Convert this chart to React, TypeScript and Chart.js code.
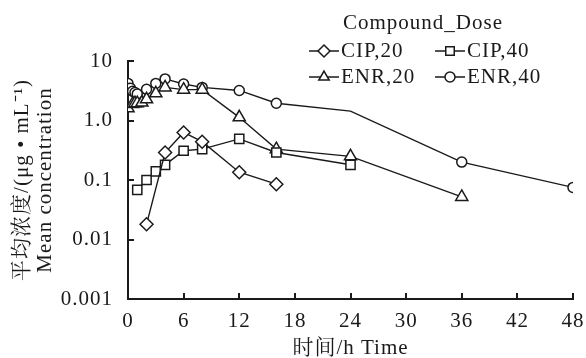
import React, { useEffect, useRef } from "react";
import Chart from "chart.js/auto";

// ---- data ----
const cip20Time = [2, 4, 6, 8, 12, 16];
const cip20Conc = [0.018, 0.29, 0.63, 0.44, 0.135, 0.085];

const cip40Time = [1, 2, 3, 4, 6, 8, 12, 16, 24];
const cip40Conc = [0.068, 0.1, 0.14, 0.18, 0.31, 0.33, 0.49, 0.29, 0.18];

const enr20Time = [0, 0.5, 0.75, 1, 1.5, 2, 3, 4, 6, 8, 12, 16, 24, 36];
const enr20Conc = [1.6, 1.9, 1.95, 1.95, 2.0, 2.27, 2.87, 3.6, 3.3, 3.3, 1.13, 0.33, 0.25, 0.052];

const enr40Time = [0, 0.25, 0.5, 0.75, 1, 2, 3, 4, 6, 8, 12, 16, 24, 36, 48];
const enr40Conc = [4.2, 3.5, 3.1, 2.95, 2.8, 3.34, 4.2, 5.0, 4.1, 3.6, 3.2, 1.95, 1.44, 0.2, 0.075];
const enr40Hidden = [24]; // time points drawn without a marker

const seriesLabels = ["CIP,20", "CIP,40", "ENR,20", "ENR,40"];
const legendTitle = "Compound_Dose";

const xTickStep = 6;
const xMin = 0;
const xMax = 48;
const yTickValues = [0.001, 0.01, 0.1, 1, 10];
const yTickLabels = ["0.001", "0.01", "0.1", "1.0", "10"];

const xTitle = "时间/h Time";
const yTitle = ["平均浓度/(μg • mL⁻¹)", "Mean concentration"];

const FONT = "'Liberation Serif', 'Times New Roman', 'Noto Serif CJK SC', 'Noto Sans CJK SC', serif";
const FS = 21;
const SPACING = "1px";
const INK = "#1a1a1a";

const pairs = (t: number[], c: number[]) => t.map((x, i) => ({ x, y: c[i] }));

const markerStyles = ["rectRot", "rect", "triangle", "circle"];
const markerRadius = [6.5, 6.5, 7, 5];
const legendRadius = [6, 6, 6, 5];

const spacingPlugin = {
  id: "spacing",
  beforeUpdate(chart: any) {
    chart.ctx.letterSpacing = SPACING;
  },
  beforeDraw(chart: any) {
    chart.ctx.letterSpacing = SPACING;
  },
};

const innerTicksPlugin = {
  id: "innerTicks",
  afterDraw(chart: any) {
    const ctx = chart.ctx;
    const xs = chart.scales.x;
    const ys = chart.scales.y;
    const area = chart.chartArea;
    ctx.save();
    ctx.strokeStyle = INK;
    ctx.lineWidth = 2;
    ctx.beginPath();
    xs.ticks.forEach((t: any) => {
      const px = Math.round(xs.getPixelForValue(t.value));
      ctx.moveTo(px, area.bottom);
      ctx.lineTo(px, area.bottom - 6);
    });
    ys.ticks.forEach((t: any) => {
      const py = Math.round(ys.getPixelForValue(t.value));
      ctx.moveTo(area.left, py);
      ctx.lineTo(area.left + 6, py);
    });
    ctx.stroke();
    ctx.restore();
  },
};

function drawMarker(ctx: CanvasRenderingContext2D, style: string, r: number, x: number, y: number) {
  ctx.save();
  ctx.fillStyle = "#ffffff";
  ctx.strokeStyle = INK;
  ctx.lineWidth = 1.5;
  ctx.beginPath();
  if (style === "circle") {
    ctx.arc(x, y, r, 0, Math.PI * 2);
  } else if (style === "rect") {
    const h = r * Math.SQRT1_2;
    ctx.rect(x - h, y - h, 2 * h, 2 * h);
  } else if (style === "rectRot") {
    ctx.moveTo(x, y - r);
    ctx.lineTo(x + r, y);
    ctx.lineTo(x, y + r);
    ctx.lineTo(x - r, y);
    ctx.closePath();
  } else if (style === "triangle") {
    for (let k = 0; k < 3; k++) {
      const a = (k * 2 * Math.PI) / 3;
      const px = x + Math.sin(a) * r;
      const py = y - Math.cos(a) * r;
      if (k === 0) ctx.moveTo(px, py);
      else ctx.lineTo(px, py);
    }
    ctx.closePath();
  }
  ctx.fill();
  ctx.stroke();
  ctx.restore();
}

const legendPlugin = {
  id: "customLegend",
  afterDraw(chart: any) {
    const ctx = chart.ctx;
    ctx.save();
    ctx.letterSpacing = SPACING;
    ctx.fillStyle = INK;
    ctx.font = `${FS}px ${FONT}`;
    ctx.textBaseline = "middle";
    ctx.textAlign = "left";
    ctx.fillText(legendTitle, 343, 23);
    const slots = [
      { x: 309, y: 51 },
      { x: 435, y: 51 },
      { x: 309, y: 77 },
      { x: 435, y: 77 },
    ];
    seriesLabels.forEach((label, i) => {
      const s = slots[i];
      ctx.strokeStyle = INK;
      ctx.lineWidth = 1.5;
      ctx.beginPath();
      ctx.moveTo(s.x, s.y);
      ctx.lineTo(s.x + 30, s.y);
      ctx.stroke();
      drawMarker(ctx, markerStyles[i], legendRadius[i], s.x + 15, s.y);
      ctx.fillStyle = INK;
      ctx.fillText(label, s.x + 32, s.y);
    });
    ctx.restore();
  },
};

export default function App() {
  const ref = useRef<HTMLCanvasElement | null>(null);

  useEffect(() => {
    if (!ref.current) return;
    const sets = [
      pairs(cip20Time, cip20Conc),
      pairs(cip40Time, cip40Conc),
      pairs(enr20Time, enr20Conc),
      pairs(enr40Time, enr40Conc),
    ];
    const chart = new Chart(ref.current, {
      type: "line",
      data: {
        datasets: sets.map((d, i) => ({
          label: seriesLabels[i],
          data: d,
          borderColor: INK,
          borderWidth: 1.4,
          pointStyle: markerStyles[i] as any,
          pointRadius:
            i === 3
              ? d.map((p) => (enr40Hidden.includes(p.x) ? 0 : markerRadius[i]))
              : markerRadius[i],
          pointBackgroundColor: "#ffffff",
          pointBorderColor: INK,
          pointBorderWidth: 1.5,
          tension: 0,
          fill: false,
        })),
      },
      options: {
        responsive: false,
        animation: false,
        devicePixelRatio: 1,
        layout: { padding: { top: 61, right: 13, left: 0, bottom: 0 } },
        plugins: {
          legend: { display: false },
          tooltip: { enabled: false },
        },
        scales: {
          x: {
            type: "linear",
            min: xMin,
            max: xMax,
            grid: { display: false, drawTicks: false },
            border: { display: true, color: INK, width: 2 },
            ticks: {
              stepSize: xTickStep,
              color: INK,
              padding: 10,
              font: { family: FONT, size: FS },
            },
            title: {
              display: true,
              text: xTitle,
              color: INK,
              font: { family: FONT, size: FS, lineHeight: 0.9 },
              padding: { top: 0, bottom: 0 },
            },
            afterFit(scale: any) {
              scale.height = 59;
              scale.paddingLeft = 0;
              scale.paddingRight = 0;
            },
          },
          y: {
            type: "logarithmic",
            min: yTickValues[0],
            max: yTickValues[yTickValues.length - 1],
            grid: { display: false, drawTicks: false },
            border: { display: true, color: INK, width: 2 },
            afterBuildTicks(scale: any) {
              scale.ticks = yTickValues.map((v) => ({ value: v }));
            },
            ticks: {
              color: INK,
              padding: 15,
              font: { family: FONT, size: FS },
              autoSkip: false,
              callback: (v: any) => {
                const idx = yTickValues.findIndex((t) => Math.abs(t - Number(v)) < 1e-12);
                return idx >= 0 ? yTickLabels[idx] : "";
              },
            },
            title: {
              display: true,
              text: yTitle,
              color: INK,
              font: { family: FONT, size: FS, lineHeight: 1.1 },
              padding: { top: 10.5, bottom: 0 },
            },
            afterFit(scale: any) {
              scale.width = 128;
              scale.paddingTop = 0;
              scale.paddingBottom = 0;
            },
          },
        },
      },
      plugins: [spacingPlugin, innerTicksPlugin, legendPlugin],
    });
    return () => chart.destroy();
  }, []);

  return (
    <div style={{ position: "fixed", left: 0, top: 0, width: 586, height: 358, background: "#fff" }}>
      <canvas ref={ref} width={586} height={358} style={{ width: 586, height: 358, display: "block" }} />
    </div>
  );
}
